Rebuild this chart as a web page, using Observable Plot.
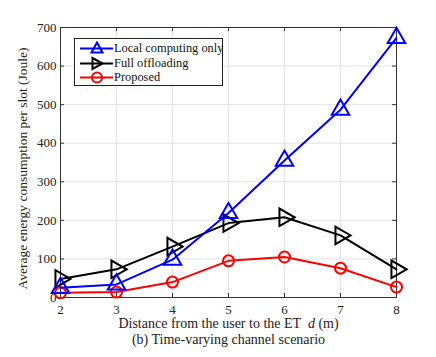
<!DOCTYPE html>
<html><head><meta charset="utf-8">
<script src="https://cdn.jsdelivr.net/npm/d3@7"></script>
<script src="https://cdn.jsdelivr.net/npm/@observablehq/plot@0.6"></script>
<style>
body{margin:0;background:#fff;}
#wrap{position:relative;width:436px;height:357px;font-family:'Liberation Serif', 'DejaVu Serif', serif;}
#wrap svg text{font-family:'Liberation Serif', 'DejaVu Serif', serif;}
#legend{position:absolute;left:74px;top:38px;width:147px;height:46px;border:1px solid #222;background:#fff;font-size:12.4px;color:#111;}
.row{position:absolute;left:0;height:15px;line-height:15px;white-space:nowrap;}
.row svg{position:absolute;left:4px;top:0;}
.row span{position:absolute;left:39px;top:0;}
</style>
</head><body>
<div id="wrap"><div id="legend"></div></div>
<script>
const distance = [2, 3, 4, 5, 6, 7, 8];
const localOnly = [25, 34, 98, 219, 355, 487, 673];
const fullOffload = [48, 73, 132, 193, 208, 161, 73];
const proposed = [12, 14, 40, 95, 105, 76, 27];
const seriesNames = ["Local computing only", "Full offloading", "Proposed"];
const seriesColors = ["#0000ff", "#000000", "#ff0000"];
const xTicks = [2, 3, 4, 5, 6, 7, 8];
const yTicks = [0, 100, 200, 300, 400, 500, 600, 700];

const rows = [];
[localOnly, fullOffload, proposed].forEach((vals, i) => {
  distance.forEach((d, j) => rows.push({series: seriesNames[i], d, v: vals[j]}));
});
const W = 436, H = 357, mt = 27, mb = 60, ml = 60, mr = 40;
const fw = W - ml - mr, fh = H - mt - mb;
const sel = s => rows.filter(r => r.series === s);

const chart = Plot.plot({
  width: W, height: H,
  marginTop: mt, marginBottom: mb, marginLeft: ml, marginRight: mr,
  style: {fontFamily: "Liberation Serif, DejaVu Serif, serif", fontSize: "12.5px", color: "#222", background: "#fff"},
  x: {domain: [2, 8], ticks: xTicks, label: null},
  y: {domain: [0, 700], ticks: yTicks, label: null},
  marks: [
    Plot.gridX(xTicks, {stroke: "#e3e3e3", strokeOpacity: 1}),
    Plot.gridY(yTicks, {stroke: "#e3e3e3", strokeOpacity: 1}),
    Plot.tickX(xTicks, {x: d => d, insetTop: fh - 4, stroke: "#333"}),
    Plot.tickX(xTicks, {x: d => d, insetBottom: fh - 4, stroke: "#333"}),
    Plot.tickY(yTicks, {y: d => d, insetRight: fw - 4, stroke: "#333"}),
    Plot.tickY(yTicks, {y: d => d, insetLeft: fw - 4, stroke: "#333"}),
    Plot.axisX(xTicks, {tickSize: 0, tickPadding: 7, label: null, fontSize: 13}),
    Plot.axisY(yTicks, {tickSize: 0, tickPadding: 4, label: null, fontSize: 13}),
    Plot.frame({stroke: "#333"}),
    Plot.line(sel(seriesNames[1]), {x: "d", y: "v", stroke: seriesColors[1], strokeWidth: 2}),
    Plot.dot(sel(seriesNames[1]), {x: "d", y: "v", symbol: "triangle", rotate: 90, r: 6.5, stroke: seriesColors[1], strokeWidth: 2, fill: "none"}),
    Plot.line(sel(seriesNames[2]), {x: "d", y: "v", stroke: seriesColors[2], strokeWidth: 2}),
    Plot.dot(sel(seriesNames[2]), {x: "d", y: "v", symbol: "circle", r: 5.5, stroke: seriesColors[2], strokeWidth: 2, fill: "none"}),
    Plot.line(sel(seriesNames[0]), {x: "d", y: "v", stroke: seriesColors[0], strokeWidth: 2}),
    Plot.dot(sel(seriesNames[0]), {x: "d", y: "v", symbol: "triangle", r: 6.5, stroke: seriesColors[0], strokeWidth: 2, fill: "none"}),
    Plot.text(["Average energy consumption per slot (Joule)"], {frameAnchor: "left", textAnchor: "middle", rotate: -90, dx: -38, dy: 6, fontSize: 13.5}),
    Plot.text(["Distance from the user to the ET  "], {frameAnchor: "bottom", textAnchor: "middle", dy: 30, fontSize: 14}),
    Plot.text(["(b) Time-varying channel scenario"], {frameAnchor: "bottom", textAnchor: "middle", dy: 46, fontSize: 14})
  ]
});
d3.select(chart).selectAll("text").each(function() {
  const t = d3.select(this);
  if (t.text().startsWith("Distance from")) {
    t.text(null);
    t.append("tspan").text("Distance from the user to the ET  ");
    t.append("tspan").attr("font-style", "italic").text("d");
    t.append("tspan").text(" (m)");
  }
});
document.getElementById("wrap").prepend(chart);

const leg = document.getElementById("legend");
const symFor = [
  c => `<path d="M0,-6 L5.5,4 L-5.5,4 Z" fill="none" stroke="${c}" stroke-width="2"/>`,
  c => `<path d="M-4.5,-5.5 L5.5,0 L-4.5,5.5 Z" fill="none" stroke="${c}" stroke-width="2"/>`,
  c => `<circle r="5" fill="none" stroke="${c}" stroke-width="2"/>`
];
seriesNames.forEach((n, i) => {
  const row = document.createElement("div");
  row.className = "row";
  row.style.top = (2 + i * 14.5) + "px";
  row.innerHTML = `<svg width="36" height="15"><g transform="translate(0,7.5)"><line x1="1" x2="34" stroke="${seriesColors[i]}" stroke-width="2"/><g transform="translate(18,0)">${symFor[i](seriesColors[i])}</g></g></svg><span>${n}</span>`;
  leg.appendChild(row);
});
</script>
</body></html>
